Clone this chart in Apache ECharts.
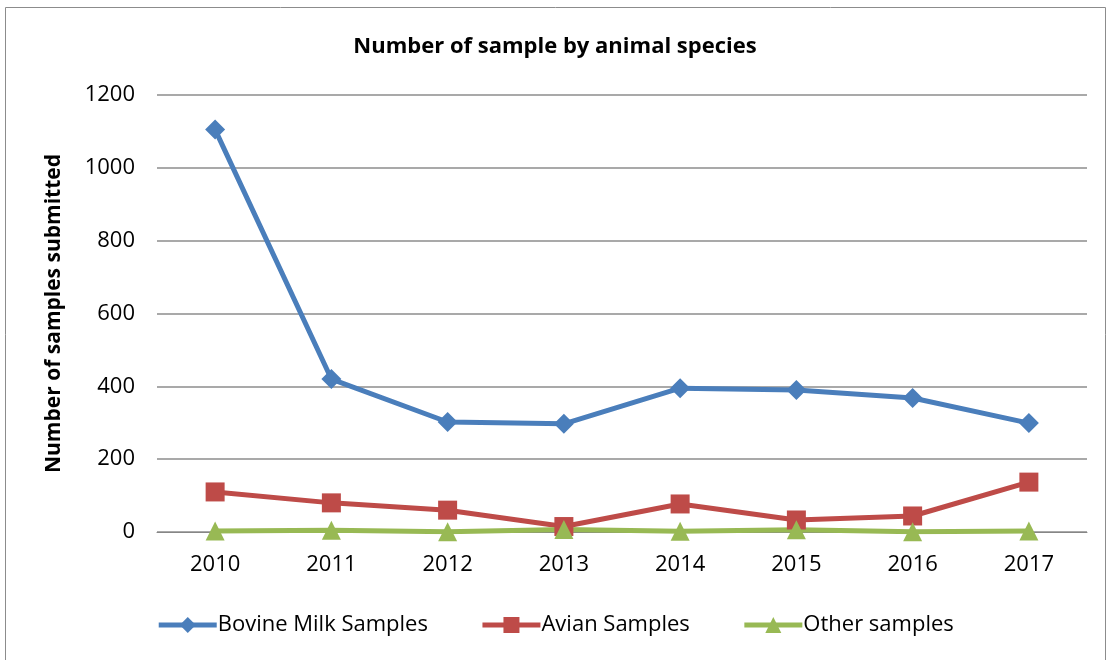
<!DOCTYPE html>
<html>
<head>
<meta charset="utf-8">
<script src="https://cdn.jsdelivr.net/npm/echarts@6/dist/echarts.min.js"></script>
<style>
  html, body { margin: 0; padding: 0; background: #fff; }
  #chart { width: 1110px; height: 660px; }
</style>
</head>
<body>
<div id="chart"></div>
<script>
// Samples submitted per year, by animal species
const years = ['2010', '2011', '2012', '2013', '2014', '2015', '2016', '2017'];
const bovineMilk = [1105, 420, 302, 297, 395, 390, 368, 299];
const avian = [110, 80, 60, 15, 77, 33, 44, 137];
const other = [3, 5, 1, 7, 2, 6, 1, 3];
const yTicks = [0, 200, 400, 600, 800, 1000, 1200];

const FONT = '"Open Sans", "Liberation Sans", sans-serif';

const chart = echarts.init(document.getElementById('chart'));

function lineSeries(name, data, color, symbol, size) {
  return {
    name: name,
    type: 'line',
    data: data,
    symbol: symbol,
    symbolSize: size,
    itemStyle: { color: color },
    lineStyle: { color: color, width: 5 },
    animation: false
  };
}

chart.setOption({
  backgroundColor: '#fff',
  title: {
    text: 'Number of sample by animal species',
    left: 'center',
    top: 31,
    textStyle: { fontFamily: FONT, fontSize: 22, fontWeight: 'bold', color: '#000' }
  },
  graphic: [{
    type: 'rect',
    shape: { x: 5.5, y: 7.5, width: 1100, height: 660 },
    style: { fill: 'none', stroke: '#8c8c8c', lineWidth: 1 },
    silent: true
  }],
  legend: {
    bottom: 19,
    left: 'center',
    itemWidth: 58,
    itemHeight: 20,
    itemGap: 52,
    lineStyle: { width: 5 },
    textStyle: { fontFamily: FONT, fontSize: 22, color: '#000', padding: [0, 0, 0, -4] },
    data: ['Bovine Milk Samples', 'Avian Samples', 'Other samples']
  },
  grid: { left: 157, right: 23, top: 95, bottom: 128 },
  xAxis: {
    type: 'category',
    data: years,
    boundaryGap: true,
    axisLine: { show: true, lineStyle: { color: '#868686', width: 1 } },
    axisTick: { show: false },
    axisLabel: { fontFamily: FONT, fontSize: 22, color: '#000', margin: 22 }
  },
  yAxis: {
    type: 'value',
    min: yTicks[0],
    max: yTicks[yTicks.length - 1],
    interval: 200,
    name: 'Number of samples submitted',
    nameLocation: 'middle',
    nameGap: 92,
    nameTextStyle: { fontFamily: FONT, fontSize: 21, fontWeight: 'bold', color: '#000' },
    axisLine: { show: false },
    axisTick: { show: false },
    axisLabel: {
      fontFamily: FONT, fontSize: 22, color: '#000', margin: 22,
      formatter: function (v) { return String(v); }
    },
    splitLine: { lineStyle: { color: '#8c8c8c', width: 1.5 } }
  },
  series: [
    lineSeries('Bovine Milk Samples', bovineMilk, '#4a7ebb', 'diamond', 20),
    lineSeries('Avian Samples', avian, '#be4b48', 'rect', 19),
    lineSeries('Other samples', other, '#98b954', 'triangle', 19)
  ]
});
</script>
</body>
</html>
